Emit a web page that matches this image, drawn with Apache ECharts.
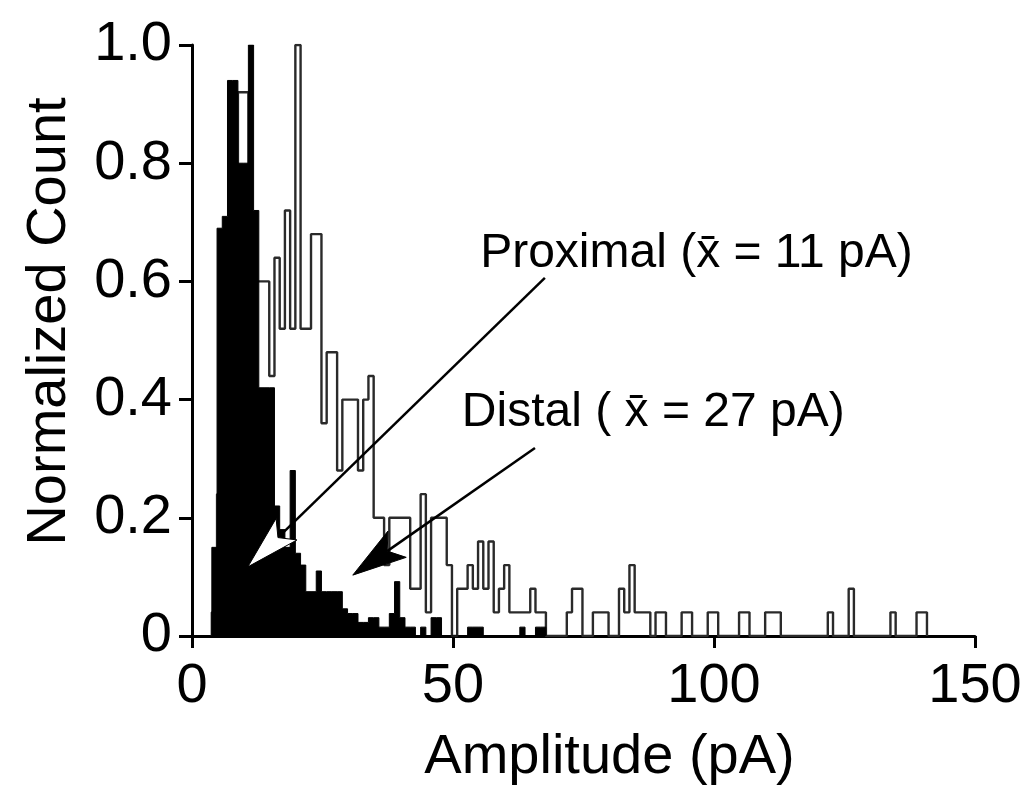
<!DOCTYPE html>
<html><head><meta charset="utf-8">
<script src="https://cdn.jsdelivr.net/npm/echarts@6/dist/echarts.min.js"></script>
<style>html,body{margin:0;padding:0;background:#fff}#c{width:1024px;height:788px}</style>
</head><body><div id="c"></div>
<script>
// ---- data ----
const BIN_WIDTH = 1;              // pA
const proximalFirstEdge = 3.8;    // left edge of first bin (pA)
const proximalValues = [
  0.15, 0.69, 0.71, 0.94, 0.94, 0.80, 0.80, 1.00, 0.72, 0.42,
  0.42, 0.42, 0.22, 0.18, 0.15, 0.28, 0.14, 0.12, 0.075, 0.075,
  0.11, 0.075, 0.075, 0.075, 0.075, 0.046, 0.038, 0.038, 0.023, 0.023,
  0.031, 0.031, 0.015, 0.015, 0.038, 0.092, 0.031, 0.015, 0.015, 0,
  0.015, 0, 0.031, 0.031, 0, 0, 0, 0, 0, 0.015,
  0.015, 0.015, 0, 0, 0, 0, 0, 0, 0, 0.015,
  0, 0, 0.015, 0.015
];
const distalFirstEdge = 3.8;
const distalValues = [
  0.04, 0.24, 0.44, 0.56, 0.72, 0.92, 0.92, 0.60, 0.60, 0.60,
  0.60, 0.44, 0.64, 0.52, 0.72, 0.52, 1.00, 0.52, 0.52, 0.68,
  0.68, 0.36, 0.48, 0.48, 0.28, 0.40, 0.40, 0.40, 0.28, 0.40,
  0.44, 0.20, 0.20, 0.12, 0.20, 0.20, 0.20, 0.20, 0.08, 0.08,
  0.24, 0.04, 0.20, 0.20, 0.20, 0.12, 0, 0.08, 0.08, 0.12,
  0.08, 0.16, 0.08, 0.16, 0.04, 0.08, 0.12, 0.04, 0.04, 0.04,
  0.04, 0.08, 0.04, 0.04, 0, 0, 0, 0, 0.04, 0.08,
  0.08, 0, 0, 0.04, 0.04, 0.04, 0, 0, 0.08, 0.04,
  0.12, 0.04, 0.04, 0.04, 0, 0.04, 0.04, 0, 0, 0,
  0.04, 0.04, 0, 0, 0, 0.04, 0.04, 0, 0, 0,
  0, 0.04, 0.04, 0, 0, 0, 0.04, 0.04, 0.04, 0,
  0, 0, 0, 0, 0, 0, 0, 0, 0.04, 0,
  0, 0, 0.08, 0, 0, 0, 0, 0, 0, 0,
  0.04, 0, 0, 0, 0, 0.04, 0.04
];
const xTickValues = [0, 50, 100, 150];
const yTickLabels = ['0', '0.2', '0.4', '0.6', '0.8', '1.0'];
const xAxisTitle = 'Amplitude (pA)';
const yAxisTitle = 'Normalized Count';
const proximalLabel = 'Proximal (x\u0304 = 11 pA)';
const distalLabel = 'Distal ( x\u0304 = 27 pA)';
// annotation anchors in data coordinates [pA, normalized count]
const proximalArrow = { from: [67.6, 0.606], to: [10.7, 0.117] };
const distalArrow = { from: [65.7, 0.318], to: [30.8, 0.103] };
const proximalTextAt = [55.2, 0.646];
const distalTextAt = [51.7, 0.377];

function stepPoints(firstEdge, values) {
  const pts = [[firstEdge, 0]];
  values.forEach((v, i) => pts.push([firstEdge + i * BIN_WIDTH, v]));
  pts.push([firstEdge + values.length * BIN_WIDTH, 0]);
  return pts;
}

const FONT = '"Liberation Sans", Arial, Helvetica, sans-serif';
const chart = echarts.init(document.getElementById('c'), null, { renderer: 'canvas' });
chart.setOption({
  animation: false,
  backgroundColor: '#fff',
  grid: { left: 192, right: 49, top: 45, bottom: 152, containLabel: false, outerBoundsMode: 'none' },
  xAxis: {
    type: 'value', min: 0, max: 150, interval: 50,
    name: xAxisTitle, nameLocation: 'middle', nameGap: 94,
    nameTextStyle: { fontFamily: FONT, fontSize: 56, color: '#000', padding: [0, 0, 0, 52] },
    axisLine: { show: true, onZero: false, lineStyle: { color: '#000', width: 3 } },
    axisTick: { show: true, length: 12, lineStyle: { color: '#000', width: 3 } },
    axisLabel: { fontFamily: FONT, fontSize: 56, color: '#000', margin: 23,
      formatter: v => String(xTickValues.find(t => t === v) ?? v) },
    splitLine: { show: false }
  },
  yAxis: {
    type: 'value', min: 0, max: 1, interval: 0.2,
    name: yAxisTitle, nameLocation: 'middle', nameGap: 114,
    nameTextStyle: { fontFamily: FONT, fontSize: 56, color: '#000', padding: [0, 0, 0, 38] },
    axisLine: { show: true, lineStyle: { color: '#000', width: 3 } },
    axisTick: { show: true, length: 13, lineStyle: { color: '#000', width: 3 } },
    axisLabel: { fontFamily: FONT, fontSize: 56, color: '#000', margin: 20,
      formatter: v => yTickLabels[Math.round(v / 0.2)] },
    splitLine: { show: false }
  },
  series: [
    {
      name: 'Distal', type: 'line', step: 'end', symbol: 'none', z: 2,
      data: stepPoints(distalFirstEdge, distalValues),
      lineStyle: { color: '#2a2a2a', width: 2.4 }
    },
    {
      name: 'Proximal', type: 'line', step: 'end', symbol: 'none', z: 3,
      data: stepPoints(proximalFirstEdge, proximalValues),
      lineStyle: { color: '#000', width: 1 },
      areaStyle: { color: '#000', opacity: 1 }
    }
  ]
});

function P(pt) { return chart.convertToPixel({ gridIndex: 0 }, pt); }
function arrow(a, fill, L, W) {
  const s = P(a.from), t = P(a.to);
  const dx = t[0] - s[0], dy = t[1] - s[1], len = Math.hypot(dx, dy);
  const ux = dx / len, uy = dy / len, nx = -uy, ny = ux;
  const bx = t[0] - L * ux, by = t[1] - L * uy;
  const notch = [t[0] - (L - 12) * ux, t[1] - (L - 12) * uy];
  return [
    { type: 'polyline', z: 10, shape: { points: [s, notch] }, style: { stroke: '#000', lineWidth: 2.5, fill: null } },
    { type: 'polygon', z: 11, shape: { points: [t, [bx + W * nx, by + W * ny], notch, [bx - W * nx, by - W * ny]] },
      style: { fill: fill, stroke: '#000', lineWidth: 1 } }
  ];
}
const pt1 = P(proximalTextAt), pt2 = P(distalTextAt);
chart.setOption({
  graphic: [
    ...arrow(proximalArrow, '#fff', 54, 15),
    ...arrow(distalArrow, '#000', 54, 16),
    { type: 'text', z: 12, x: pt1[0], y: pt1[1], style: { text: proximalLabel, font: '48px ' + FONT, fill: '#000', align: 'left', verticalAlign: 'middle' } },
    { type: 'text', z: 12, x: pt2[0], y: pt2[1], style: { text: distalLabel, font: '48px ' + FONT, fill: '#000', align: 'left', verticalAlign: 'middle' } }
  ]
});
</script>
</body></html>
